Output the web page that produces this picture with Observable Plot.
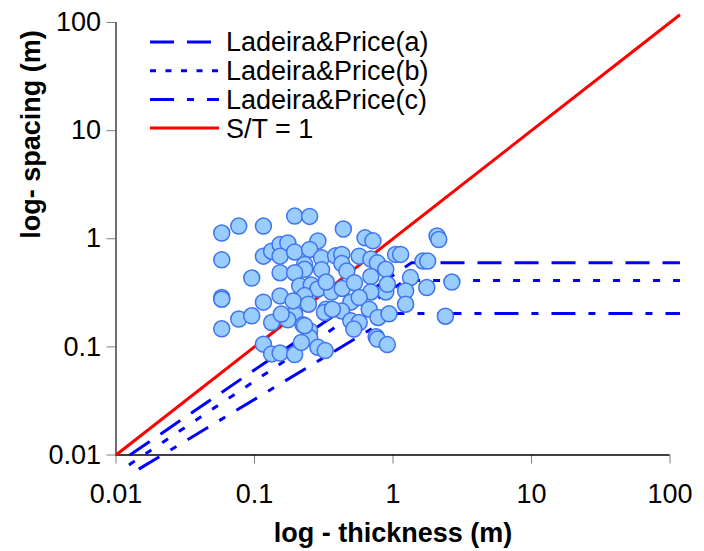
<!DOCTYPE html>
<html><head><meta charset="utf-8">
<script src="https://cdn.jsdelivr.net/npm/d3@7"></script>
<script src="https://cdn.jsdelivr.net/npm/@observablehq/plot@0.6"></script>
<style>body{margin:0;background:#fff;}</style>
</head><body><div id="chart"></div>
<script>
// Scatter data: bed thickness (m) vs fracture spacing (m)
const thickness = [0.058,0.077,0.116,0.195,0.250,0.438,0.058,0.0955,0.058,0.058,
  0.077,0.0955,0.058,0.116,0.133,0.153,0.153,0.116,0.133,0.153,
  0.174,0.153,0.195,0.287,0.250,0.230,0.230,0.195,0.305,0.305,
  0.385,0.427,0.427,0.464,0.570,0.628,0.716,0.212,0.257,0.287,
  0.230,0.36,0.43,0.329,0.496,0.195,0.174,0.190,0.224,0.245,
  0.329,0.425,0.496,0.570,0.521,0.250,0.250,0.116,0.133,0.153,
  0.195,0.287,0.324,0.218,2.08,2.14,0.692,0.771,1.045,1.135,
  1.645,1.78,0.887,0.692,1.337,2.66,1.754,1.233,0.887,0.692,
  0.910,0.527,0.320,0.365,0.570,0.673,0.78,0.936,1.233,2.39,
  0.755,0.771,0.910,0.156,0.230];
const spacing = [1.13,1.31,1.31,1.62,1.61,1.23,0.638,0.433,0.286,0.276,
  0.181,0.194,0.147,0.259,0.168,0.296,0.485,0.690,0.767,0.885,
  0.915,0.690,0.755,0.955,0.796,0.579,0.522,0.485,0.666,0.516,
  0.695,0.716,0.589,0.502,0.690,1.02,0.957,0.366,0.374,0.343,
  0.298,0.321,0.347,0.398,0.259,0.201,0.178,0.266,0.160,0.248,
  0.223,0.215,0.174,0.168,0.146,0.141,0.122,0.106,0.0861,0.0877,
  0.0849,0.099,0.0924,0.110,1.06,0.984,0.648,0.599,0.716,0.716,
  0.621,0.621,0.522,0.447,0.437,0.398,0.354,0.329,0.322,0.322,
  0.379,0.392,0.208,0.223,0.286,0.223,0.187,0.202,0.248,0.192,
  0.124,0.118,0.105,0.201,0.157];

// Ladeira & Price curves and S/T = 1 reference line
const lineA_x = [0.0126, 1.36, 118];
const lineA_y = [0.01, 0.6, 0.6];
const lineB_x = [0.0124, 1.22, 118];
const lineB_y = [0.0081, 0.41, 0.41];
const lineC_x = [0.0146, 1.07, 118];
const lineC_y = [0.0074, 0.204, 0.204];
const ref_x = [0.01, 118];
const ref_y = [0.01, 118];

const seriesNames = ["Ladeira&Price(a)", "Ladeira&Price(b)", "Ladeira&Price(c)", "S/T = 1"];
const tickValues = [0.01, 0.1, 1, 10, 100];
const tickLabels = ["0.01", "0.1", "1", "10", "100"];
const xTitle = "log - thickness (m)";
const yTitle = "log- spacing (m)";

const pts = thickness.map((t, i) => ({t, s: spacing[i]}));
const toXY = (xs, ys) => xs.map((x, i) => ({x, y: ys[i]}));
const fmt = d => tickLabels[tickValues.indexOf(d)];

const blue = "#0000ff";
const styles = [
  {stroke: blue, strokeWidth: 3, dash: "24,13"},
  {stroke: blue, strokeWidth: 3, dash: "7,13"},
  {stroke: blue, strokeWidth: 3, dash: "24,13,7,13"},
  {stroke: "#ff0000", strokeWidth: 3, dash: null}
];
const legendDash = ["24,13", "6,9.5", "24,13,7,13", null];
const FS = 27;
const FONT = "'Liberation Sans', Arial, sans-serif";

const lineData = [toXY(lineA_x, lineA_y), toXY(lineB_x, lineB_y), toXY(lineC_x, lineC_y), toXY(ref_x, ref_y)];

const svg = Plot.plot({
  width: 704, height: 551,
  marginLeft: 115.5, marginRight: 34.5, marginTop: 22, marginBottom: 96.5,
  style: {fontFamily: FONT, fontSize: FS + "px", background: "#fff", color: "#000", overflow: "visible"},
  x: {type: "log", domain: [0.01, 100]},
  y: {type: "log", domain: [0.01, 100]},
  marks: [
    Plot.axisX({ticks: tickValues, tickFormat: fmt, tickSize: 9, tickPadding: 20, stroke: "#808080", label: null, fontSize: FS, fill: "#000"}),
    Plot.axisY({ticks: tickValues, tickFormat: fmt, tickSize: 9, tickPadding: 6, stroke: "#808080", label: null, fontSize: FS, fill: "#000"}),
    Plot.ruleY([0.01], {stroke: "#000", strokeWidth: 1.5}),
    Plot.ruleX([0.01], {stroke: "#404040", strokeWidth: 1.5}),
    ...lineData.map((d, i) => Plot.line(d, {x: "x", y: "y", stroke: styles[i].stroke, strokeWidth: styles[i].strokeWidth,
      strokeDasharray: styles[i].dash, strokeLinecap: "butt", strokeLinejoin: "miter"})),
    Plot.dot(pts, {x: "t", y: "s", r: 8, fill: "#99ccff", stroke: "#3f74f0", strokeWidth: 1.5}),
    Plot.text([xTitle], {text: d => d, frameAnchor: "bottom", dy: 87, fontWeight: "bold", fontSize: FS}),
    Plot.text([yTitle], {text: d => d, frameAnchor: "left", dx: -85, rotate: -90, fontWeight: "bold", fontSize: FS})
  ]
});

// Legend (inside plot area, top-left)
const lg = d3.select(svg).append("g").attr("font-family", FONT).attr("font-size", FS).attr("text-anchor", "start");
seriesNames.forEach((name, i) => {
  const y = 42 + i * 28.7;
  lg.append("line").attr("x1", 150).attr("x2", 219).attr("y1", y).attr("y2", y)
    .attr("stroke", styles[i].stroke).attr("stroke-width", styles[i].strokeWidth)
    .attr("stroke-dasharray", legendDash[i]).attr("stroke-linecap", "butt");
  lg.append("text").attr("x", 226).attr("y", y).attr("dy", "0.35em").attr("fill", "#000")
    .attr("text-anchor", "start").text(name);
});

document.getElementById("chart").appendChild(svg);
</script>
</body></html>
